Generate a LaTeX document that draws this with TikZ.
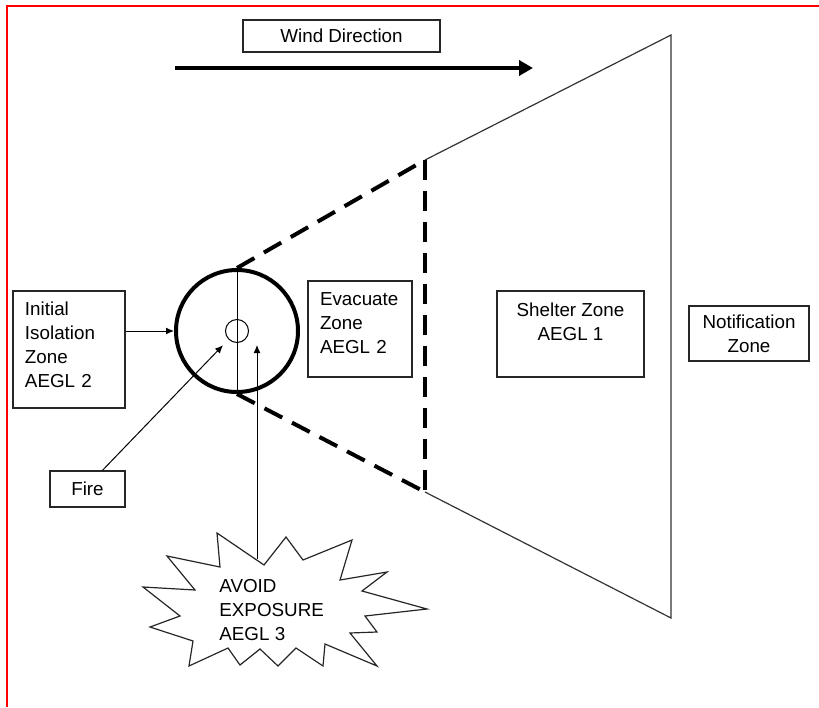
\documentclass[tikz,border=0pt]{standalone}
\usepackage{fontspec}
\setmainfont{Liberation Sans}
\usetikzlibrary{arrows.meta}

\begin{document}
\begin{tikzpicture}[x=0.5pt, y=-0.5pt,
  every node/.style={font=\fontsize{9.4}{12}\selectfont},
  zonebox/.style={draw=black!85, line width=0.7pt, inner xsep=6pt, inner ysep=0pt},
  thinline/.style={draw=black!80, line width=0.6pt},
  thinarrow/.style={-{Latex[length=4pt,width=3.5pt]}, line width=0.5pt},
  dashzone/.style={line width=2pt, dash pattern=on 10pt off 5.5pt}]
  \useasboundingbox (0,0) rectangle (819,707);
  % Frame on the left and top
  \draw[red, line width=1.3pt] (7,707) -- (7,6) -- (819,6);
  % Wind
  \node[zonebox, minimum width=98.5pt, minimum height=16pt] (wind) at (341.5,36) {Wind Direction};
  \coordinate (windstart) at (175,68);
  \coordinate (windend) at (533,68);
  \draw[line width=2pt, -{Triangle[length=7pt,width=7.5pt]}] (windstart) -- (windend);
  % Outer zone
  \coordinate (topdash) at (425,160);
  \coordinate (botdash) at (425,492);
  \draw[thinline] (topdash) -- (671,35) -- (671,618) -- (botdash);
  % Isolation circle and fire
  \node[draw, circle, line width=2pt, minimum size=61pt, inner sep=0pt] (zone) at (237,331) {};
  \node[draw, circle, line width=0.5pt, minimum size=11.5pt, inner sep=0pt] (fire) at (237,331) {};
  \draw[line width=0.5pt] (zone.north) -- (zone.south);
  % Evacuate zone edges
  \draw[dashzone] (zone.north) -- (topdash);
  \draw[dashzone] (zone.south) -- (botdash);
  \draw[dashzone] (topdash) -- (botdash);
  % Labels
  \node[zonebox, minimum width=56pt, minimum height=58.5pt, text width=44pt, align=left] (initial) at (69,349.5)
    {Initial\\Isolation\\Zone\\AEGL 2\\[-7pt]~};
  \node[zonebox, minimum width=52pt, minimum height=48pt, text width=40pt, align=left] (evacuate) at (360,329)
    {Evacuate\\Zone\\AEGL 2\\[-6pt]~};
  \node[zonebox, minimum width=73.5pt, minimum height=43pt, align=center] (shelter) at (570.5,334)
    {Shelter Zone\\AEGL 1\\~};
  \node[zonebox, minimum width=60pt, minimum height=27.5pt, align=center] (notify) at (749,333.5)
    {Notification\\Zone};
  \node[zonebox, minimum width=37.5pt, minimum height=18pt] (firebox) at (87.5,489) {Fire};
  % Burst
  \draw[line width=0.6pt, black!85] (217,533) -- (264,565) -- (286,537) -- (303,560) -- (352,540)
    -- (340,580) -- (387,572) -- (362,591) -- (427,609) -- (365,616) -- (377,632) -- (350,633)
    -- (377,666) -- (325,644) -- (323,666) -- (296,648) -- (278,666) -- (260,649) -- (240,665)
    -- (228,648) -- (189,666) -- (193,641) -- (150,627) -- (180,616) -- (143,587) -- (195,590)
    -- (167,556) -- (220,567) -- cycle;
  \node[anchor=west, align=left, inner sep=0pt] (avoid) at (219,610) {AVOID\\EXPOSURE\\AEGL 3};
  \coordinate (bursttop) at (257,559);
  \coordinate (avoidend) at (257,345);
  % Arrows
  \draw[thinarrow] (initial.east |- zone.west) -- (zone.west);
  \draw[thinarrow, shorten >=4pt] ([xshift=7.5pt]firebox.north) -- (fire.225);
  \draw[thinarrow] (bursttop) -- (avoidend);
\end{tikzpicture}
\end{document}
